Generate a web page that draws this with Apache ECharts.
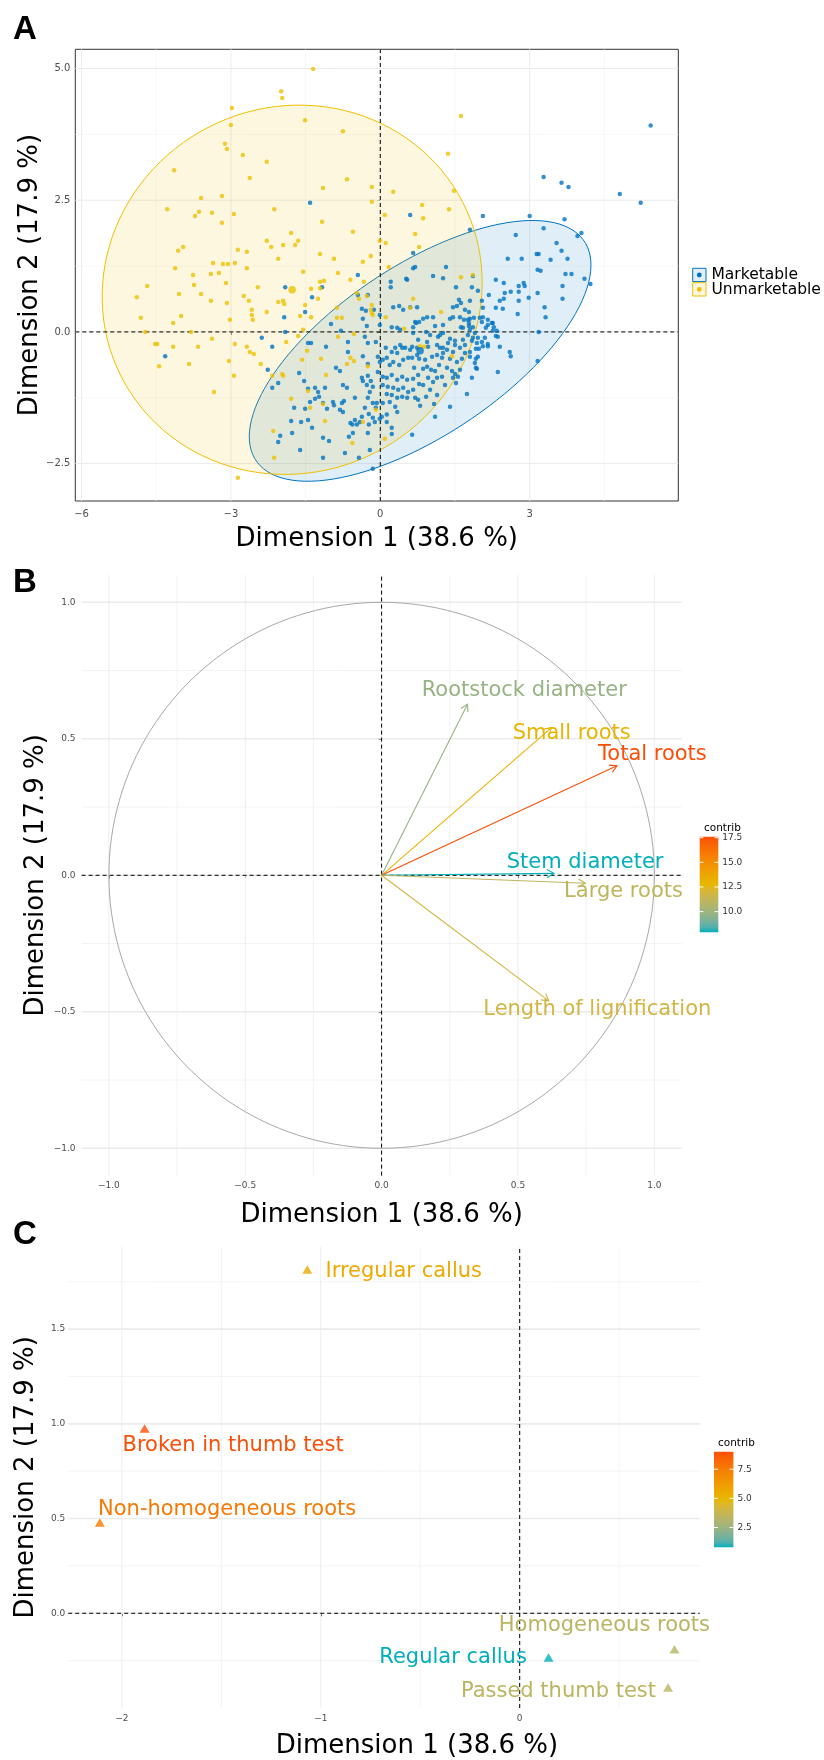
<!DOCTYPE html>
<html><head><meta charset="utf-8">
<script src="https://cdn.jsdelivr.net/npm/echarts@6/dist/echarts.min.js"></script>
<style>html,body{margin:0;padding:0;background:#fff}#c{width:824px;height:1760px}</style>
</head><body><div id="c"></div>
<script>
// ---------------- DATA ----------------
// Panel A: individuals (Dim1, Dim2)
const marketable = [
[5.43,3.92],[3.28,2.94],[3.64,2.83],[3.78,2.75],[4.81,2.62],[5.23,2.45],[0.60,2.22],[2.06,2.20],[3.00,2.20],[3.70,2.14],[3.28,1.97],[4.04,1.88],[3.96,1.82],[2.72,1.84],[1.80,1.94],[3.54,1.69],[3.14,1.48],[3.18,1.48],[3.64,1.54],[2.56,1.39],[2.84,1.39],[3.42,1.37],[3.76,1.39],[0.66,1.50],[0.66,1.21],[1.32,1.23],[1.06,1.06],[1.26,1.02],[1.52,0.85],[1.86,1.06],[3.16,1.18],[3.22,1.16],[3.72,1.10],[3.84,1.10],[4.10,1.01],[4.22,0.91],[3.66,0.87],[2.32,0.99],[2.48,0.93],[2.78,0.87],[2.88,0.93],[2.90,0.87],[2.50,0.74],[2.62,0.76],[2.78,0.76],[2.18,0.70],[3.16,0.74],[3.66,0.63],[0.52,1.01],[-1.41,2.45],[-1.91,0.85],[-1.17,0.85],[-1.37,0.66],[-0.45,1.08],[-0.45,0.70],[-0.25,0.70],[0.21,0.95],[0.21,0.85],[0.70,1.23],[0.54,0.99],[1.84,0.85],[1.96,0.78],
[2.40,0.59],[2.48,0.63],[2.32,0.46],[2.46,0.44],[2.78,0.59],[2.98,0.65],[3.30,0.47],[3.32,0.28],[2.76,0.34],[3.18,0.00],[1.58,0.61],[1.46,0.47],[1.54,0.49],[1.62,0.55],[1.80,0.59],[1.70,0.42],[1.78,0.38],[2.06,0.46],[2.04,0.59],[2.06,0.28],[2.16,0.23],[2.26,0.17],[2.28,0.09],[2.34,0.02],[2.36,-0.09],[2.40,-0.28],[2.16,0.13],[2.26,0.02],[2.16,-0.23],[1.98,-0.32],[1.92,-0.51],[1.92,-0.68],[1.84,-0.87],[1.74,-1.18],[1.40,-1.42],[1.10,-1.61],[0.64,-1.95],[2.60,-0.38],[2.62,-0.46],[2.36,-0.76],[3.16,-0.55],[1.86,-0.11],[1.62,0.09],[1.76,0.23],[1.78,0.17],[1.08,-1.37],[0.80,-1.40],
[0.74,0.47],[0.94,0.28],[1.06,0.28],[0.86,0.25],[0.78,0.19],[0.72,0.17],[1.10,0.11],[1.26,0.13],[1.40,0.25],[1.46,0.28],[1.60,0.28],[1.68,0.23],[1.80,0.25],[1.88,0.27],[2.00,0.27],[1.78,0.11],[1.66,0.08],[1.86,0.09],[2.04,0.19],[2.12,0.08],[2.24,0.17],[0.92,0.00],[1.00,-0.06],[1.20,-0.06],[1.26,-0.02],[1.16,-0.09],[1.40,-0.13],[1.50,-0.17],[1.66,-0.15],[1.76,-0.06],[1.80,0.04],[1.90,-0.02],[1.96,-0.11],[2.10,-0.11],[2.32,-0.08],[0.66,-0.02],[0.76,-0.15],[0.94,-0.19],[0.96,-0.28],[1.14,-0.25],[1.26,-0.30],[1.36,-0.21],[1.50,-0.25],[1.60,-0.30],[1.70,-0.25],[1.84,-0.17],[1.94,-0.21],[2.04,-0.19],[2.06,-0.27],[2.16,-0.27],[0.64,-0.28],[0.74,-0.30],[0.70,-1.25],[0.76,-1.29],[0.92,-1.23],[1.30,-1.01],[1.46,-0.87],[1.56,-0.85],[1.50,-0.80],[1.60,-0.72],[1.44,-0.74],[1.34,-0.68],[1.24,-0.85],[1.14,-0.87],[1.06,-0.95],[0.96,-0.87],[0.86,-1.01],[0.78,-0.99],[1.02,-0.72],[1.10,-0.74],[1.18,-0.63],[0.94,-0.66],[0.86,-0.70],[0.68,-0.68],[0.76,-0.82],[0.66,-0.89],[0.64,-0.49],[0.74,-0.44],[0.78,-0.51],[0.90,-0.53],[1.04,-0.47],[1.14,-0.44],[1.24,-0.49],[1.26,-0.40],[1.34,-0.34],[1.40,-0.51],[1.54,-0.57],[1.64,-0.51],[1.70,-0.40],[1.80,-0.38],[1.92,-0.32],[1.96,-0.47],[1.90,-0.59],[1.94,-0.70],[1.80,-0.47],[1.20,-0.30],[1.46,-0.38],[1.52,-0.97],[1.00,-1.10],[1.14,-1.20],
[-0.05,-0.47],[-0.01,-0.57],[0.05,-0.53],[0.13,-0.49],[0.19,-0.63],[0.26,-0.57],[0.38,-0.63],[0.46,-0.53],[0.56,-0.49],[0.34,-0.40],[0.23,-0.38],[0.44,-0.30],[0.60,-0.34],[-0.05,-0.76],[0.05,-0.85],[0.13,-0.87],[0.23,-0.82],[0.34,-0.91],[0.44,-0.85],[0.54,-0.91],[0.05,-1.01],[0.15,-1.04],[0.26,-1.06],[0.36,-1.10],[0.46,-1.06],[0.56,-1.14],[0.66,-1.10],[0.13,-1.18],[0.23,-1.20],[0.34,-1.25],[0.44,-1.23],[0.54,-1.25],[0.19,-1.33],[0.30,-1.42],[0.05,-1.35],[0.13,-1.57],[0.23,-1.82],[0.34,-1.52],[0.23,-1.94],
[-1.51,0.38],[-1.93,0.28],[-0.99,0.15],[-0.37,0.44],[-0.29,0.40],[-0.13,0.42],[-0.01,0.32],[-0.35,0.25],[-0.27,0.11],[-0.01,0.13],[-0.79,0.02],[0.26,0.47],[0.38,0.49],[0.46,0.42],[0.60,0.47],[0.23,0.09],[0.34,0.08],[0.40,0.04],[0.66,0.09],[0.70,0.19],[-2.38,-0.11],[-2.17,-0.28],[-1.45,-0.21],[-1.39,-0.21],[-1.09,-0.28],[-0.65,-0.19],[-0.31,-0.09],[-0.25,-0.21],[-0.09,-0.19],[0.11,-0.30],[0.30,-0.30],[0.40,-0.25],[0.50,-0.30],
[-4.32,-0.46],[-2.26,-0.72],[-2.17,-1.06],[-2.05,-0.97],[-1.63,-0.78],[-1.53,-0.93],[-1.31,-1.06],[-1.25,-1.14],[-1.45,-1.08],[-1.23,-1.23],[-1.11,-1.06],[-0.89,-0.68],[-0.81,-0.74],[-0.65,-0.38],[-0.35,-0.46],[-0.25,-0.61],[-0.75,-1.01],[-0.67,-1.06],[-0.51,-1.25],[-0.37,-0.87],[-0.35,-0.93],[-0.25,-0.83],[-0.19,-0.93],[-0.27,-1.01],[-0.15,-1.04],[-0.21,-1.14],[-0.25,-1.25],[-0.15,-1.35],[-0.31,-1.44],[-0.07,-1.35],[-0.09,-1.44],[-0.23,-1.56],[-0.15,-1.63],[-0.37,-1.61],[-0.41,-1.71],[-0.51,-1.67],[-0.56,-1.76],[-0.47,-1.76],[-0.23,-1.76],[-0.11,-1.71],[-0.01,-1.65],[0.03,-1.61],[0.13,-1.71],[-0.25,-1.92],[-0.55,-1.92],[-0.63,-1.99],[-0.60,-1.73],[-0.81,-1.48],[-0.93,-1.39],[-0.95,-1.33],[-0.77,-1.35],[-0.73,-1.31],[-0.75,-1.52],[-1.07,-1.46],[-1.15,-1.35],[-1.31,-1.27],[-1.41,-1.33],[-1.51,-1.46],[-1.73,-1.44],[-1.79,-1.69],[-1.59,-1.71],[-1.45,-1.67],[-1.37,-1.82],[-1.77,-1.92],[-2.01,-1.97],[-2.05,-2.09],[-1.15,-2.01],[-1.03,-2.07],[-1.61,-2.24],[-1.15,-2.39],[-0.71,-2.30],[-0.43,-2.39],[-0.21,-2.24],[-0.15,-2.60],[-1.91,0.00]
];
const unmarketable = [
[-1.35,4.99],[-1.99,4.57],[-1.97,4.44],[-2.98,4.25],[-3.00,3.93],[-1.51,4.02],[-0.75,3.81],[-3.12,3.57],[-3.08,3.47],[-2.76,3.36],[-2.28,3.23],[-4.14,3.07],[-2.62,2.92],[-0.67,2.90],[-1.15,2.73],[-0.17,2.75],[-0.17,2.47],[0.26,2.66],[-3.60,2.54],[-3.18,2.58],[-4.28,2.33],[-3.64,2.28],[-3.72,2.20],[-3.38,2.26],[-2.94,2.24],[-2.13,2.33],[0.09,2.22],[1.62,4.10],[1.36,3.38],[1.48,2.68],[0.84,2.41],[1.38,2.33],[0.86,2.16],
[-3.18,2.07],[-4.06,1.54],[-3.96,1.61],[-2.86,1.56],[-4.12,1.21],[-3.36,1.31],[-3.16,1.29],[-3.06,1.29],[-2.92,1.31],[-3.76,1.08],[-3.40,1.10],[-3.24,1.12],[-3.10,0.93],[-4.68,0.87],[-3.74,0.89],[-4.89,0.66],[-4.04,0.72],[-3.60,0.72],[-4.81,0.27],[-4.72,0.00],[-4.52,-0.23],[-4.48,-0.23],[-4.16,0.17],[-4.16,-0.28],[-4.00,0.30],[-3.80,0.00],[-3.66,-0.28],[-3.40,0.59],[-3.38,-0.13],[-3.08,0.55],[-3.02,0.23],[-2.92,-0.23],[-4.44,-0.65],[-3.84,-0.61],[-3.34,-1.14],[-3.04,-0.55],[-2.94,-0.83],
[-1.17,2.09],[-1.79,1.88],[-2.28,1.73],[-0.55,1.90],[-2.19,1.61],[-1.95,1.65],[-1.71,1.65],[-1.65,1.73],[-2.68,1.52],[-2.05,1.39],[-1.21,1.48],[-0.93,1.39],[-0.19,1.44],[-0.01,1.73],[0.11,1.69],[0.70,1.86],[-0.35,1.33],[-2.68,1.21],[-1.55,1.14],[-0.85,1.12],[-0.60,0.99],[-1.21,0.95],[-1.13,0.97],[-2.46,0.85],[-1.39,0.82],[-1.21,0.83],[-0.33,0.95],[0.17,1.23],[-0.47,0.74],[-0.43,0.63],[-0.27,0.68],[-2.74,0.68],[-2.64,0.59],[-2.58,0.42],[-2.58,0.32],[-2.56,0.23],[-2.28,0.38],[-2.05,0.57],[-1.95,0.59],[-1.93,0.53],[-1.51,0.51],[-1.61,0.30],[-1.39,0.28],[-1.25,0.63],[-0.87,0.46],[-0.87,0.27],[-0.77,0.27],[-0.17,0.36],[-0.15,0.32],[-0.19,0.42],[-0.17,0.51],[0.11,0.28],[0.66,0.63],[0.60,0.46],[0.48,0.06],[-1.55,0.04],[-1.65,-0.08],[-1.89,-0.19],[-0.85,-0.09],[-0.53,-0.04],[-2.68,-0.28],[-2.62,-0.38],[0.78,1.61],[1.62,1.04],[1.86,1.08],[1.22,0.38],[0.80,-0.27],[0.88,-0.28],[1.44,-0.46],
[-2.54,-0.42],[-2.40,-0.61],[-2.17,-0.83],[-1.97,-0.80],[-1.95,-0.83],[-1.57,-0.53],[-1.19,-0.51],[-1.47,-0.36],[-0.67,-0.61],[-0.60,-0.49],[-0.53,-0.55],[-0.25,-0.65],[-1.09,-0.82],[-1.45,-1.12],[-1.79,-1.27],[-1.41,-1.44],[-1.15,-1.37],[-1.11,-1.69],[-2.15,-1.88],[-2.13,-2.39],[-2.86,-2.77],[-0.56,-2.11],[-0.35,-1.71],[-0.09,-1.48],[0.09,-2.03]
];
const groupNames = ['Marketable','Unmarketable'];
const groupMeans = [[0.80,-0.36],[-1.77,0.80]];
// confidence ellipses: [centerX, centerY, semiAxisA, semiAxisB, angleDeg]
const ellipseMarketable = [0.80,-0.36,3.90,1.64,31.6];
const ellipseUnmarketable = [-1.77,0.80,3.83,3.49,12];
const ticksAx = [-6,-3,0,3], minorAx = [-4.5,-1.5,1.5,4.5];
const ticksAy = [-2.5,0,2.5,5], minorAy = [-1.25,1.25,3.75];

// Panel B: variables
const varsB = ['Rootstock diameter','Small roots','Total roots','Stem diameter','Large roots','Length of lignification'];
const dim1B = [0.315,0.623,0.863,0.632,0.747,0.613];
const dim2B = [0.627,0.541,0.401,0.007,-0.029,-0.460];
const contribB = [9.8,13.0,17.6,7.9,11.1,11.8];
const ticksB = [-1,-0.5,0,0.5,1], minorB = [-0.75,-0.25,0.25,0.75];
const cbTicksB = [10,12.5,15,17.5];

// Panel C: categories
const catsC = ['Irregular callus','Broken in thumb test','Non-homogeneous roots','Homogeneous roots','Regular callus','Passed thumb test'];
const dim1C = [-1.068,-1.886,-2.111,0.778,0.145,0.746];
const dim2C = [1.815,0.976,0.479,-0.190,-0.234,-0.392];
const contribC = [5.6,9.0,7.6,3.3,0.8,3.4];
const ticksCx = [-2,-1,0], minorCx = [-1.5,-0.5,0.5];
const ticksCy = [0,0.5,1,1.5], minorCy = [-0.25,0.25,0.75,1.25,1.75];
const cbTicksC = [2.5,5,7.5];

// ---------------- LAYOUT (label anchors, axis limits) ----------------
const labPosB = [[0.523,0.675],[0.697,0.518],[0.993,0.441],[0.746,0.048],[0.887,-0.058],[0.791,-0.493]];
const labPosC = [[-0.583,1.806],[-1.441,0.883],[-1.471,0.549],[0.426,-0.067],[-0.335,-0.234],[0.195,-0.415]];
const limA = {x:[-6.125,5.985], y:[-3.21,5.365]};
const limB = {x:[-1.1,1.1], y:[-1.1,1.1]};
const limC = {x:[-2.27,0.905], y:[-0.50,1.935]};

// ---------------- COLOUR SCALE (ggplot-like Lab interpolation) ----------------
function hex2rgb(h){h=h.replace('#','');return [0,2,4].map(i=>parseInt(h.substr(i,2),16));}
function lin(c){c/=255;return c<=0.04045?c/12.92:Math.pow((c+0.055)/1.055,2.4);}
function delin(c){c=c<=0.0031308?12.92*c:1.055*Math.pow(c,1/2.4)-0.055;return Math.max(0,Math.min(255,Math.round(c*255)));}
function rgb2lab(rgb){const [r,g,b]=rgb.map(lin);const X=(0.4124564*r+0.3575761*g+0.1804375*b)/0.95047,Y=(0.2126729*r+0.7151522*g+0.0721750*b),Z=(0.0193339*r+0.1191920*g+0.9503041*b)/1.08883;const f=t=>t>216/24389?Math.cbrt(t):(24389/27*t+16)/116;const fx=f(X),fy=f(Y),fz=f(Z);return [116*fy-16,500*(fx-fy),200*(fy-fz)];}
function lab2rgb(l){const [L,a,b]=l;const fy=(L+16)/116,fx=fy+a/500,fz=fy-b/200;const inv=t=>{const t3=t*t*t;return t3>216/24389?t3:(116*t-16)/(24389/27);};const X=inv(fx)*0.95047,Y=inv(fy),Z=inv(fz)*1.08883;const r=3.2404542*X-1.5371385*Y-0.4985314*Z,g=-0.9692660*X+1.8760108*Y+0.0415560*Z,bb=0.0556434*X-0.2040259*Y+1.0572252*Z;return [delin(r),delin(g),delin(bb)];}
const gradLab=['#00AFBB','#E7B800','#FC4E07'].map(h=>rgb2lab(hex2rgb(h)));
function gradColor(t){t=Math.max(0,Math.min(1,t));const s=t*2;const i=Math.min(1,Math.floor(s));const u=s-i;const a=gradLab[i],b=gradLab[i+1];const c=lab2rgb(a.map((v,k)=>v+(b[k]-v)*u));return 'rgb('+c.join(',')+')';}
function scaleColor(arr){const mn=Math.min(...arr),mx=Math.max(...arr);return {min:mn,max:mx,cols:arr.map(v=>gradColor((v-mn)/(mx-mn)))};}
const scB = scaleColor(contribB), scC = scaleColor(contribC);

// ---------------- HELPERS ----------------
const FONT = 'DejaVu Sans';
const MINUS = '\u2212';
const fmt1 = v => (v<0?MINUS:'') + Math.abs(v).toFixed(1);
const fmt0 = v => (v<0?MINUS:'') + Math.abs(v).toFixed(0);
function segSeries(gi, segs, style, z){
  return {type:'custom', xAxisIndex:gi, yAxisIndex:gi, silent:true, z:z, clip:false,
    data:segs, encode:{x:[0,2], y:[1,3]},
    renderItem:(p,api)=>{const a=api.coord([api.value(0),api.value(1)]), b=api.coord([api.value(2),api.value(3)]);
      return {type:'line', shape:{x1:a[0],y1:a[1],x2:b[0],y2:b[1]}, style:Object.assign({fill:null},style)};}};
}
const vSegs=(vals,lim)=>vals.map(v=>[v,lim.y[0],v,lim.y[1]]);
const hSegs=(vals,lim)=>vals.map(v=>[lim.x[0],v,lim.x[1],v]);
function ellipsePts(e){const [cx,cy,a,b,deg]=e;const th=deg*Math.PI/180;const pts=[];for(let i=0;i<=120;i++){const t=2*Math.PI*i/120;pts.push([cx+a*Math.cos(t)*Math.cos(th)-b*Math.sin(t)*Math.sin(th), cy+a*Math.cos(t)*Math.sin(th)+b*Math.sin(t)*Math.cos(th)]);}return pts;}
function polySeries(gi, pts, style, z){
  return {type:'custom', xAxisIndex:gi, yAxisIndex:gi, silent:true, z:z, clip:true,
    data:[pts[0]], renderItem:(p,api)=>({type:'polygon', shape:{points:pts.map(q=>api.coord(q))}, style:style})};
}
function colorbarSeries(gi, sc, ticks){
  const stops=[];for(let i=0;i<=20;i++){stops.push({offset:i/20,color:gradColor(i/20)});}
  return {type:'custom', xAxisIndex:gi, yAxisIndex:gi, silent:true, z:5, clip:false, data:[[0,sc.min]],
    renderItem:(p,api)=>{const tl=api.coord([0,sc.max]), br=api.coord([1,sc.min]);
      const kids=[{type:'rect', shape:{x:tl[0],y:tl[1],width:br[0]-tl[0],height:br[1]-tl[1]},
        style:{fill:{type:'linear',x:0,y:1,x2:0,y2:0,colorStops:stops}}}];
      const w=(br[0]-tl[0])/5;
      ticks.forEach(t=>{const q=api.coord([0,t]);kids.push({type:'line',shape:{x1:tl[0],y1:q[1],x2:tl[0]+w,y2:q[1]},style:{stroke:'#fff',lineWidth:1}});kids.push({type:'line',shape:{x1:br[0]-w,y1:q[1],x2:br[0],y2:q[1]},style:{stroke:'#fff',lineWidth:1}});});
      return {type:'group',children:kids};}};
}
const gridMajor={stroke:'#EBEBEB',lineWidth:1}, gridMinor={stroke:'#F3F3F3',lineWidth:0.7};
const dashStyle={stroke:'#000',lineWidth:1,lineDash:[4,3]};
const titleStyle={fontFamily:FONT,fontSize:26,color:'#000'};
function valAxis(gi, lim, ticks, fmt, name, nameGap, fs, margin, extra){
  return Object.assign({gridIndex:gi, type:'value', min:lim[0], max:lim[1], splitLine:{show:false}, axisLine:{show:false},
    axisTick:{show:true, customValues:ticks, length:3, lineStyle:{color:'#333',width:1}},
    axisLabel:{customValues:ticks, formatter:fmt, fontSize:fs, color:'#4D4D4D', fontFamily:FONT, margin:margin},
    name:name, nameLocation:'middle', nameGap:nameGap, nameTextStyle:titleStyle}, extra||{});
}

// ---------------- OPTION ----------------
const blue='#0073C2', yellow='#EFC000';
const unitCircle=[];for(let i=0;i<=180;i++){const t=2*Math.PI*i/180;unitCircle.push([Math.cos(t),Math.sin(t)]);}
const letterStyle={fontFamily:'Liberation Sans',fontWeight:'bold',fontSize:33,color:'#000'};
const smallTitle={fontFamily:FONT,fontWeight:'normal',fontSize:10.5,color:'#000'};
const noMove={nameMoveOverlap:false};

const option = {
  backgroundColor:'#fff', animation:false,
  title:[
    {text:'A', left:8, top:8, textStyle:letterStyle},
    {text:'B', left:8, top:561, textStyle:letterStyle},
    {text:'C', left:8, top:1213, textStyle:letterStyle},
    {text:'contrib', left:699, top:818, textStyle:smallTitle},
    {text:'contrib', left:713, top:1433, textStyle:smallTitle}
  ],
  grid:[
    {left:75.3, top:49.3, width:603, height:451.7, show:true, borderColor:'#333', borderWidth:1, backgroundColor:'#fff'},
    {left:81.6, top:575, width:600, height:600.6},
    {left:68.2, top:1246.7, width:631.5, height:461.3},
    {left:699.7, top:836.7, width:18.6, height:95.6},
    {left:714, top:1451.7, width:19.4, height:95.6}
  ],
  xAxis:[
    valAxis(0, limA.x, ticksAx, fmt0, 'Dimension 1 (38.6 %)', 25, 10, 8),
    valAxis(1, limB.x, ticksB, fmt1, 'Dimension 1 (38.6 %)', 27, 9, 6),
    valAxis(2, limC.x, ticksCx, fmt0, 'Dimension 1 (38.6 %)', 25, 9, 6, {nameTextStyle:Object.assign({padding:[0,0,0,66]},titleStyle)}),
    {gridIndex:3, type:'value', min:0, max:1, show:false},
    {gridIndex:4, type:'value', min:0, max:1, show:false}
  ],
  yAxis:[
    valAxis(0, limA.y, ticksAy, fmt1, 'Dimension 2 (17.9 %)', 32, 10, 5, noMove),
    valAxis(1, limB.y, ticksB, fmt1, 'Dimension 2 (17.9 %)', 32, 9, 6, noMove),
    valAxis(2, limC.y, ticksCy, fmt1, 'Dimension 2 (17.9 %)', 29, 9, 3, noMove),
    {gridIndex:3, type:'value', min:scB.min, max:scB.max, position:'right', splitLine:{show:false}, axisLine:{show:false}, axisTick:{show:false},
      axisLabel:{customValues:cbTicksB, formatter:v=>v.toFixed(1), fontSize:9, color:'#333', fontFamily:FONT, margin:4}},
    {gridIndex:4, type:'value', min:scC.min, max:scC.max, position:'right', splitLine:{show:false}, axisLine:{show:false}, axisTick:{show:false},
      axisLabel:{customValues:cbTicksC, formatter:v=>v.toFixed(1), fontSize:9, color:'#333', fontFamily:FONT, margin:4}}
  ],
  series:[
    // ---- Panel A
    segSeries(0, vSegs(minorAx,limA).concat(hSegs(minorAy,limA)), gridMinor, 1),
    segSeries(0, vSegs(ticksAx,limA).concat(hSegs(ticksAy,limA)), gridMajor, 1),
    polySeries(0, ellipsePts(ellipseMarketable), {fill:'rgba(0,115,194,0.12)', stroke:blue, lineWidth:1}, 2),
    polySeries(0, ellipsePts(ellipseUnmarketable), {fill:'rgba(239,192,0,0.12)', stroke:yellow, lineWidth:1}, 2),
    segSeries(0, [[0,limA.y[0],0,limA.y[1]],[limA.x[0],0,limA.x[1],0]], dashStyle, 3),
    {type:'scatter', name:groupNames[0], xAxisIndex:0, yAxisIndex:0, data:marketable, symbolSize:4.5, itemStyle:{color:blue}, z:4, silent:true},
    {type:'scatter', name:groupNames[1], xAxisIndex:0, yAxisIndex:0, data:unmarketable, symbolSize:4.5, itemStyle:{color:yellow}, z:4, silent:true},
    {type:'scatter', xAxisIndex:0, yAxisIndex:0, data:[{value:groupMeans[0],itemStyle:{color:blue}},{value:groupMeans[1],itemStyle:{color:yellow}}], symbolSize:7.5, z:4, silent:true},
    // ---- Panel B
    segSeries(1, vSegs(minorB,limB).concat(hSegs(minorB,limB)), {stroke:'#F0F0F0',lineWidth:0.8}, 1),
    segSeries(1, vSegs(ticksB,limB), {stroke:'#EDEDED',lineWidth:1}, 1),
    segSeries(1, hSegs(ticksB,limB), {stroke:'#EBEBEB',lineWidth:1.6}, 1),
    {type:'custom', xAxisIndex:1, yAxisIndex:1, silent:true, z:2, data:[[0,0]],
      renderItem:(p,api)=>({type:'polyline', shape:{points:unitCircle.map(q=>api.coord(q))}, style:{stroke:'#A8A8A8',lineWidth:1,fill:null}})},
    segSeries(1, [[0,limB.y[0],0,limB.y[1]],[limB.x[0],0,limB.x[1],0]], dashStyle, 3),
    {type:'custom', xAxisIndex:1, yAxisIndex:1, silent:true, z:4, clip:false,
      data:varsB.map((n,i)=>[dim1B[i],dim2B[i]]),
      renderItem:(p,api)=>{const i=p.dataIndex;const col=scB.cols[i];const o=api.coord([0,0]);const t=api.coord([dim1B[i],dim2B[i]]);
        const ang=Math.atan2(t[1]-o[1],t[0]-o[0]);const L=8,A=Math.PI/6;
        const h1=[t[0]-L*Math.cos(ang-A),t[1]-L*Math.sin(ang-A)],h2=[t[0]-L*Math.cos(ang+A),t[1]-L*Math.sin(ang+A)];
        const lp=api.coord(labPosB[i]);
        return {type:'group',children:[
          {type:'line',shape:{x1:o[0],y1:o[1],x2:t[0],y2:t[1]},style:{stroke:col,lineWidth:1.1}},
          {type:'polyline',shape:{points:[h1,t,h2]},style:{stroke:col,lineWidth:1.1,fill:null}},
          {type:'text',x:lp[0],y:lp[1],style:{text:varsB[i],fill:col,fontFamily:FONT,fontSize:21,align:'center',verticalAlign:'middle'}}
        ]};}},
    colorbarSeries(3, scB, cbTicksB),
    // ---- Panel C
    segSeries(2, vSegs(minorCx,limC).concat(hSegs(minorCy,limC)), {stroke:'#F0F0F0',lineWidth:0.8}, 1),
    segSeries(2, vSegs(ticksCx,limC), {stroke:'#EDEDED',lineWidth:1}, 1),
    segSeries(2, hSegs(ticksCy,limC), {stroke:'#EBEBEB',lineWidth:1.6}, 1),
    segSeries(2, [[0,limC.y[0],0,limC.y[1]],[limC.x[0],0,limC.x[1],0]], dashStyle, 3),
    {type:'scatter', xAxisIndex:2, yAxisIndex:2, symbol:'triangle', symbolSize:[10,8.5], z:4, silent:true,
      data:catsC.map((n,i)=>({name:n,value:[dim1C[i],dim2C[i]],itemStyle:{color:scC.cols[i]}}))},
    {type:'custom', xAxisIndex:2, yAxisIndex:2, silent:true, z:4, clip:false,
      data:catsC.map((n,i)=>labPosC[i]),
      renderItem:(p,api)=>{const i=p.dataIndex;const lp=api.coord(labPosC[i]);
        return {type:'text',x:lp[0],y:lp[1],style:{text:catsC[i],fill:scC.cols[i],fontFamily:FONT,fontSize:21,align:'center',verticalAlign:'middle'}};}},
    colorbarSeries(4, scC, cbTicksC)
  ],
  graphic:[
    {type:'rect', shape:{x:692.7,y:268.3,width:13.3,height:13.3}, style:{fill:'rgba(0,115,194,0.12)',stroke:blue,lineWidth:1}},
    {type:'circle', shape:{cx:699.3,cy:275,r:2.4}, style:{fill:blue}},
    {type:'text', x:711.5, y:275, style:{text:groupNames[0],fontFamily:FONT,fontSize:15.5,fill:'#000',verticalAlign:'middle'}},
    {type:'rect', shape:{x:692.7,y:282.7,width:13.3,height:13.3}, style:{fill:'rgba(239,192,0,0.12)',stroke:yellow,lineWidth:1}},
    {type:'circle', shape:{cx:699.3,cy:289.4,r:2.4}, style:{fill:yellow}},
    {type:'text', x:711.5, y:289.6, style:{text:groupNames[1],fontFamily:FONT,fontSize:15.5,fill:'#000',verticalAlign:'middle'}}
  ]
};
const chart = echarts.init(document.getElementById('c'), null, {renderer:'canvas', width:824, height:1760});
chart.setOption(option);
</script>
</body></html>
